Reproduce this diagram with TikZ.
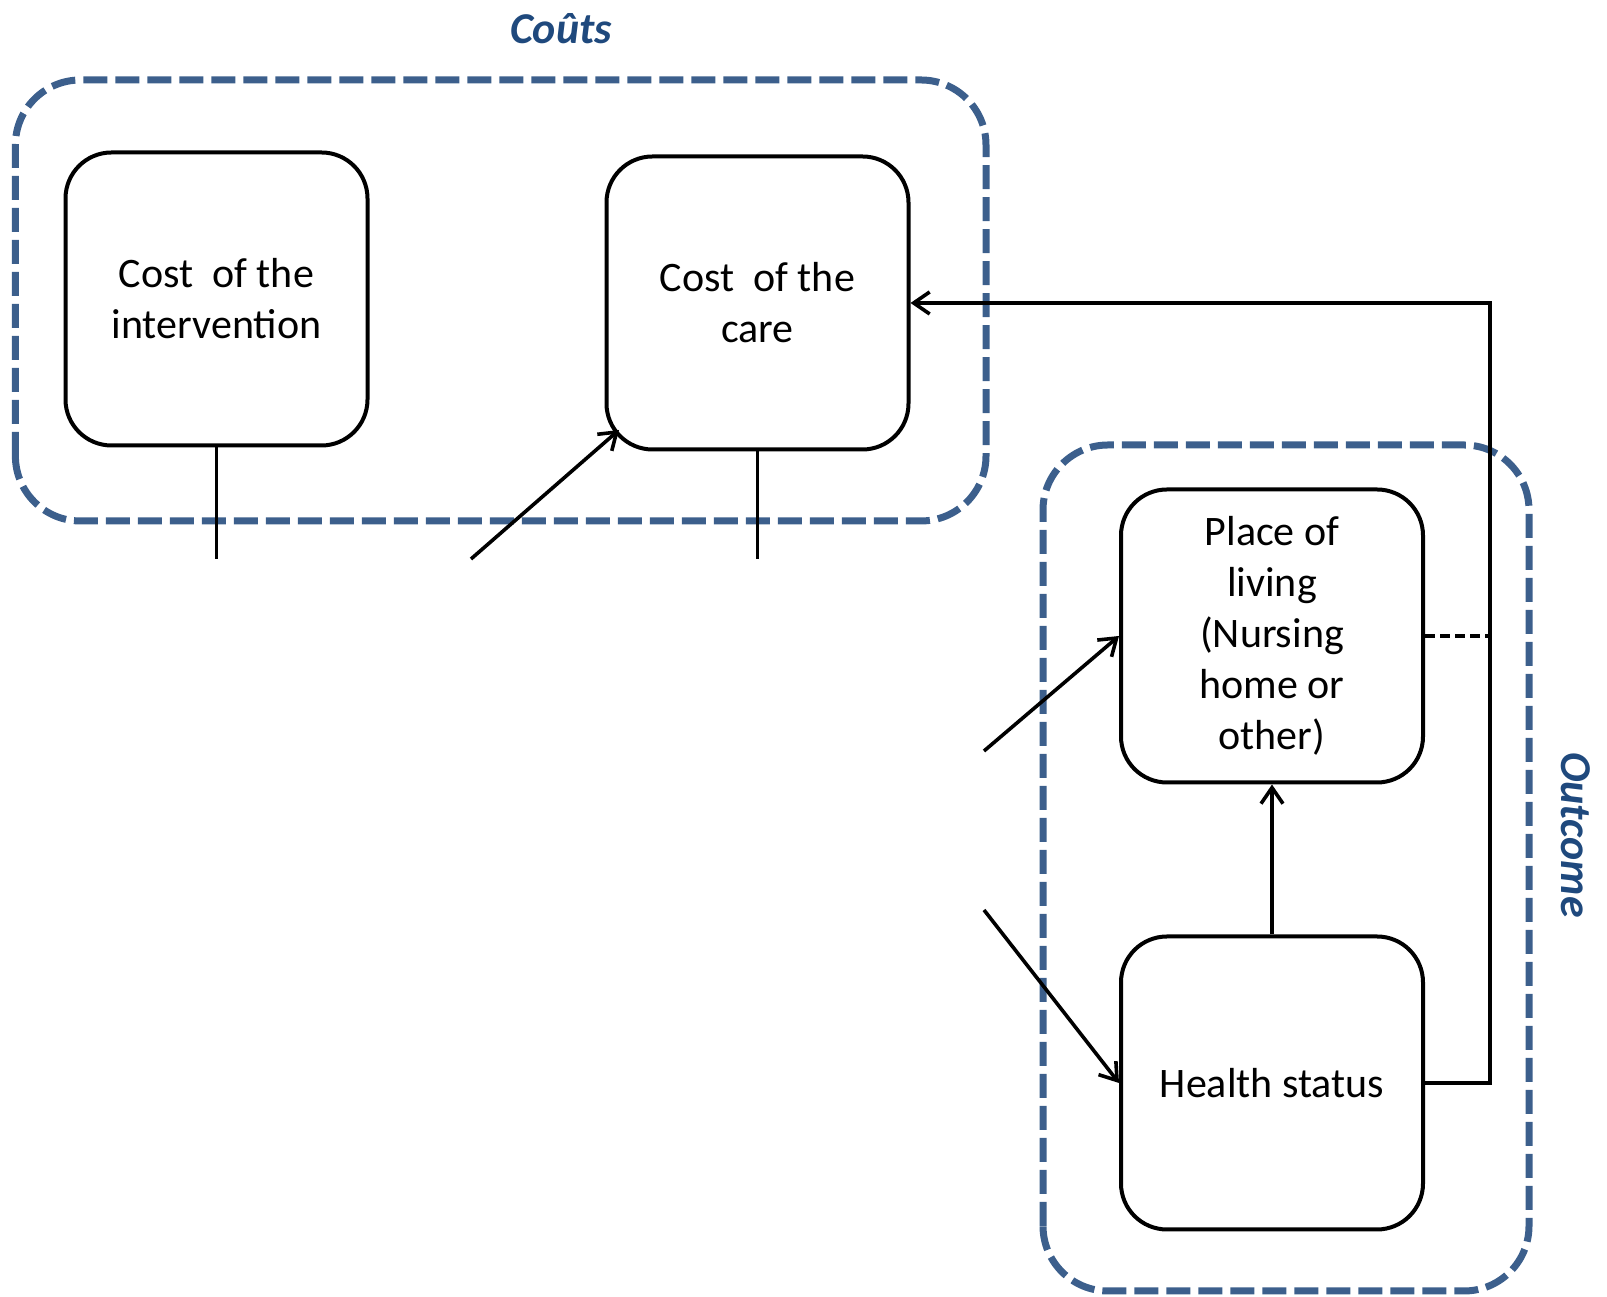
\documentclass[tikz,border=0pt]{standalone}
\usepackage{fontspec}
\setmainfont{Carlito}
\usetikzlibrary{arrows.meta}
\definecolor{grpline}{RGB}{60,95,140}
\definecolor{grptext}{RGB}{31,73,125}
\tikzset{
  box/.style={draw, line width=4pt, rounded corners=46pt, minimum width=302pt,
    minimum height=293pt, align=center, inner sep=0pt,
    font=\fontsize{42pt}{51pt}\selectfont},
  grp/.style={draw=grpline, line width=7pt, dash pattern=on 24pt off 8pt, rounded corners=65pt},
  grplabel/.style={text=grptext, font=\fontsize{44pt}{52pt}\selectfont\bfseries\itshape},
  link/.style={line width=3.6pt},
  arr/.style={line width=3.6pt, -{Straight Barb[length=16pt,width=22pt,line width=3.6pt]}},
  weak/.style={line width=3.6pt, dash pattern=on 10pt off 5pt}
}
\begin{document}
\begin{tikzpicture}[x=1pt,y=1pt]
\useasboundingbox (0,0) rectangle (1607,1297);

% group frames
\draw[grp] (15.4,776) rectangle (986,1217);
\draw[grp] (1043,6) rectangle (1529,852);
\node[grplabel] (couts) at (561,1268) {Coûts};
\node[grplabel, rotate=-90] (outcome) at (1576,462) {Outcome};

% boxes
\node[box] (interv) at (216.5,998) {Cost\ \ of the\\intervention};
\node[box] (care) at (757.5,994) {Cost\ \ of the\\care};
\node[box] (place) at (1272,661) {Place of\\living\\(Nursing\\home or\\other)};
\node[box] (health) at (1272,214) {Health status};

% loose ends
\coordinate (intervEnd) at (216.5,738);
\coordinate (careEnd) at (757.5,738);
\coordinate (inCare) at (471,738);
\coordinate (careTip) at (619,867);
\coordinate (inPlace) at (984,546);
\coordinate (inHealth) at (984,387);
\coordinate (bus) at (1490,0);

% connectors
\draw[link] (interv.south) -- (intervEnd);
\draw[link] (care.south) -- (careEnd);
\draw[arr] (inCare) -- (careTip);
\draw[arr] (inPlace) -- (place.west);
\draw[arr] (inHealth) -- (health.west);
\draw[arr] (health.north) -- (place.south);
\draw[arr] (health.east) -- (health.east -| bus) |- (care.east);
\draw[weak] (place.east) -- (place.east -| bus);
\end{tikzpicture}
\end{document}
